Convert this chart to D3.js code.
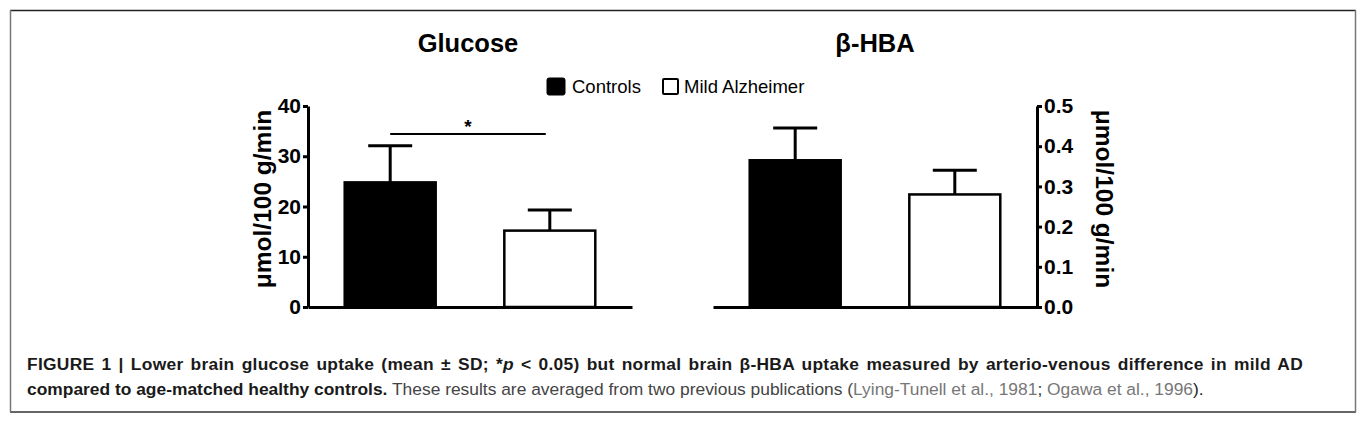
<!DOCTYPE html>
<html>
<head>
<meta charset="utf-8">
<script src="https://cdn.jsdelivr.net/npm/d3@7"></script>
<style>
  html, body { margin: 0; padding: 0; background: #fff; }
  svg { display: block; font-family: "Liberation Sans", Arial, Helvetica, sans-serif; }
</style>
</head>
<body>
<svg id="chart" width="1370" height="424"></svg>
<script>
// ---- data ----
const groups = ["Controls", "Mild Alzheimer"];
const glucoseMean = [24.8, 15.2];
const glucoseSD = [7.3, 4.1];
const hbaMean = [0.365, 0.28];
const hbaSD = [0.08, 0.06];
const glucoseTicks = [0, 10, 20, 30, 40];
const hbaTicks = [0, 0.1, 0.2, 0.3, 0.4, 0.5];
const fills = ["#000", "#fff"];
const titles = ["Glucose", "β-HBA"];
const yLabel = "μmol/100 g/min";

const svg = d3.select("#chart");

// frame
const frame = svg.append("g");
frame.append("line").attr("x1", 10).attr("x2", 1356).attr("y1", 10.5).attr("y2", 10.5).attr("stroke", "#222").attr("stroke-width", 1.5);
frame.append("line").attr("x1", 10).attr("x2", 1356).attr("y1", 412).attr("y2", 412).attr("stroke", "#333").attr("stroke-width", 1.5);
frame.append("line").attr("x1", 10.5).attr("x2", 10.5).attr("y1", 10).attr("y2", 412).attr("stroke", "#777").attr("stroke-width", 1.5);
frame.append("line").attr("x1", 1355.5).attr("x2", 1355.5).attr("y1", 10).attr("y2", 412).attr("stroke", "#777").attr("stroke-width", 1.5);

function panel(opts) {
  const g = svg.append("g");
  const x = d3.scaleBand().domain(groups).range(opts.xRange).paddingInner(0.43).paddingOuter(0.23);
  const y = d3.scaleLinear().domain(opts.yDomain).range([307, 106]);

  // title
  g.append("text").attr("x", opts.titleX).attr("y", 52).attr("text-anchor", "middle")
    .attr("font-size", 25.5).attr("font-weight", "bold").attr("fill", "#000").text(opts.title);

  // error bars
  const capHalf = 22;
  groups.forEach((grp, i) => {
    const cx = x(grp) + x.bandwidth() / 2;
    const top = y(opts.mean[i] + opts.sd[i]);
    g.append("line").attr("x1", cx).attr("x2", cx).attr("y1", y(opts.mean[i])).attr("y2", top)
      .attr("stroke", "#000").attr("stroke-width", 3);
    g.append("line").attr("x1", cx - capHalf).attr("x2", cx + capHalf).attr("y1", top).attr("y2", top)
      .attr("stroke", "#000").attr("stroke-width", 3);
  });

  // bars
  g.selectAll("rect.bar").data(groups).enter().append("rect").attr("class", "bar")
    .attr("x", d => x(d))
    .attr("width", x.bandwidth())
    .attr("y", (d, i) => y(opts.mean[i]))
    .attr("height", (d, i) => y(0) - y(opts.mean[i]))
    .attr("fill", (d, i) => fills[i])
    .attr("stroke", "#000").attr("stroke-width", 2.5);

  // x axis line
  const xa = g.append("g").attr("transform", "translate(0,307)")
    .call(d3.axisBottom(x).tickSize(0).tickSizeOuter(0).tickFormat(""));
  xa.select(".domain").attr("stroke", "#000").attr("stroke-width", 3);

  // y axis
  const axisFn = opts.side === "left" ? d3.axisLeft(y) : d3.axisRight(y);
  const ya = g.append("g").attr("transform", `translate(${opts.axisX},0)`)
    .call(axisFn.tickValues(opts.ticks).tickFormat(opts.fmt).tickSize(5).tickSizeOuter(0).tickPadding(2));
  ya.select(".domain").attr("stroke", "#000").attr("stroke-width", 3);
  ya.selectAll(".tick line").attr("stroke", "#000").attr("stroke-width", 3);
  ya.selectAll(".tick text").attr("font-size", 21).attr("font-weight", "bold").attr("fill", "#000")
    .attr("font-family", "'Liberation Sans', Arial, sans-serif");

  // y label
  g.append("text")
    .attr("transform", `translate(${opts.labelX},199) rotate(${opts.side === "left" ? -90 : 90})`)
    .attr("text-anchor", "middle").attr("dominant-baseline", "central")
    .attr("font-size", 24.5).attr("font-weight", "bold").attr("fill", "#000").text(yLabel);

  return { x, y, g };
}

const left = panel({
  xRange: [308, 632], yDomain: [0, 40], mean: glucoseMean, sd: glucoseSD,
  ticks: glucoseTicks, fmt: d3.format("d"), side: "left", axisX: 308,
  title: titles[0], titleX: 468, labelX: 262
});
const right = panel({
  xRange: [713, 1037], yDomain: [0, 0.5], mean: hbaMean, sd: hbaSD,
  ticks: hbaTicks, fmt: d3.format(".1f"), side: "right", axisX: 1037,
  title: titles[1], titleX: 875, labelX: 1104
});

// significance marker on glucose panel
const c0 = left.x(groups[0]) + left.x.bandwidth() / 2;
const c1 = left.x(groups[1]) + left.x.bandwidth() / 2;
left.g.append("line").attr("x1", c0).attr("x2", c1 - 4).attr("y1", 134).attr("y2", 134)
  .attr("stroke", "#000").attr("stroke-width", 2);
left.g.append("text").attr("x", (c0 + c1) / 2 - 2).attr("y", 133).attr("text-anchor", "middle")
  .attr("font-size", 19).attr("font-weight", "bold").text("*");

// legend
const legend = svg.append("g").attr("font-size", 18.5).attr("fill", "#000");
legend.append("rect").attr("x", 547).attr("y", 78).attr("width", 18).attr("height", 17).attr("rx", 2)
  .attr("fill", fills[0]).attr("stroke", "#000").attr("stroke-width", 1);
legend.append("text").attr("x", 572).attr("y", 93).text(groups[0]);
legend.append("rect").attr("x", 663).attr("y", 79).attr("width", 15).attr("height", 15).attr("rx", 1)
  .attr("fill", fills[1]).attr("stroke", "#000").attr("stroke-width", 2);
legend.append("text").attr("x", 684).attr("y", 93).text(groups[1]);

// caption (first line justified to the box width)
const cap = svg.append("g").attr("font-size", 17.4);
const l1 = cap.append("text").attr("x", 27).attr("y", 370).attr("fill", "#1a1a1a").attr("font-weight", "bold");
l1.append("tspan").text("FIGURE 1 | Lower brain glucose uptake (mean ± SD; *");
l1.append("tspan").attr("font-style", "italic").text("p");
l1.append("tspan").text(" < 0.05) but normal brain β-HBA uptake measured by arterio-venous difference in mild AD");
const fullText = l1.text();
const nSpaces = (fullText.match(/ /g) || []).length;
const nChars = fullText.length;
const natural = l1.node().getComputedTextLength();
const target = 1303 - 27;
if (natural < target && nSpaces > 0) {
  const extra = target - natural;
  const ls = (extra * 0.45) / nChars;
  l1.attr("letter-spacing", ls);
  l1.attr("word-spacing", (extra * 0.55) / nSpaces);
}

const l2 = cap.append("text").attr("x", 27).attr("y", 395).attr("fill", "#1a1a1a");
l2.append("tspan").attr("font-weight", "bold").text("compared to age-matched healthy controls.");
l2.append("tspan").attr("fill", "#444").text(" These results are averaged from two previous publications (");
l2.append("tspan").attr("fill", "#777").text("Lying-Tunell et al., 1981");
l2.append("tspan").attr("fill", "#333").text("; ");
l2.append("tspan").attr("fill", "#777").text("Ogawa et al., 1996");
l2.append("tspan").attr("fill", "#222").text(").");
</script>
</body>
</html>
